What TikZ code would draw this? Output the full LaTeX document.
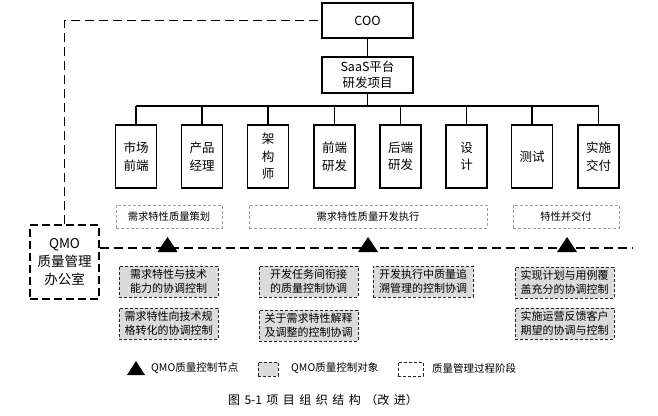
\documentclass[tikz,border=0pt]{standalone}
\usepackage{fontspec}
\setmainfont{Noto Sans CJK SC}
\newcommand\capgap{\hspace{4.5pt}}
\begin{document}
\begin{tikzpicture}[x=1pt,y=-1pt,
  solid box/.style={draw,line width=1.1pt,align=center,inner sep=0pt},
  topbox/.style={solid box,minimum width=91pt,font=\fontsize{12.5}{16}\selectfont},
  rolebox/.style={solid box,minimum width=41pt,minimum height=63pt,font=\fontsize{12.5}{17.5}\selectfont},
  phasebox/.style={draw=gray!75,line width=0.6pt,dash pattern=on 3pt off 2pt,minimum height=23pt,inner sep=0pt,font=\fontsize{10.3}{12}\selectfont},
  gbox/.style={fill=gray!28,draw=gray!30!black,line width=0.7pt,dash pattern=on 3pt off 2pt,minimum width=99pt,minimum height=31pt,align=center,inner sep=0pt,font=\fontsize{11}{14}\selectfont},
  qmoline/.style={line width=1.4pt,dash pattern=on 9pt off 5pt},
  legtext/.style={anchor=west,inner sep=0pt,font=\fontsize{10.5}{12}\selectfont}]
\useasboundingbox (0,0) rectangle (658,415);

% top
\node[topbox,minimum height=35pt] (coo) at (367.5,20.5) {COO};
\node[topbox,minimum height=36pt] (saas) at (367.5,75) {SaaS平台\\研发项目};
\draw[line width=1.1pt] (coo.south) -- (saas.north);

% roles
\node[rolebox] (b1) at (136,156.5) {市场\\前端};
\node[rolebox] (b2) at (202,156.5) {产品\\经理};
\node[rolebox] (b3) at (268,156.5) {架\\构\\师};
\node[rolebox] (b4) at (334.5,156.5) {前端\\研发};
\node[rolebox] (b5) at (400.5,156.5) {后端\\研发};
\node[rolebox] (b6) at (466.5,156.5) {设\\计};
\node[rolebox] (b7) at (532,156.5) {测试};
\node[rolebox] (b8) at (598.5,156.5) {实施\\交付};

\coordinate (bus) at (367.5,106);
\draw[line width=1.1pt] (saas.south) -- (bus);
\draw[line width=1.1pt] (b1.north |- bus) -- (b8.north |- bus);
\foreach \b in {b1,b2,b3,b4,b5,b6,b7,b8}
  \draw[line width=1.1pt] (\b.north) -- (\b.north |- bus);

% phases
\node[phasebox,minimum width=106pt] (p1) at (169,216.5) {需求特性质量策划};
\node[phasebox,minimum width=238pt] (p2) at (368,216.5) {需求特性质量开发执行};
\node[phasebox,minimum width=106pt] (p3) at (566,216.5) {特性并交付};

% QMO
\node[draw,line width=1.4pt,dash pattern=on 8pt off 4pt,minimum width=69pt,minimum height=74pt,align=center,inner sep=0pt,font=\fontsize{13.5}{18}\selectfont] (qmo) at (64.5,262) {QMO\\质量管理\\办公室};
\draw[qmoline] (qmo.north) |- (coo.west);
\coordinate (lineend) at (633,248);
\draw[qmoline] (qmo.east |- lineend) -- (lineend);

% control nodes
\fill (167.5,237) -- ++(10,15) -- ++(-20,0) -- cycle;
\fill (368,237) -- ++(10,15) -- ++(-20,0) -- cycle;
\fill (567,237) -- ++(10,15) -- ++(-20,0) -- cycle;

% control objects
\node[gbox] (g1) at (168.5,281.5) {需求特性与技术\\能力的协调控制};
\node[gbox] (g2) at (168.5,323.5) {需求特性向技术规\\格转化的协调控制};
\node[gbox] (g3) at (308.5,281.5) {开发任务间衔接\\的质量控制协调};
\node[gbox] (g4) at (308.5,325.5) {关于需求特性解释\\及调整的控制协调};
\node[gbox,minimum width=100pt] (g5) at (423,281.5) {开发执行中质量追\\溯管理的控制协调};
\node[gbox] (g6) at (564.5,282.5) {实现计划与用例覆\\盖充分的协调控制};
\node[gbox] (g7) at (564.5,323.5) {实施运营反馈客户\\期望的协调与控制};

% legend
\fill (136,361) -- ++(9,14) -- ++(-18,0) -- cycle;
\node[legtext] (l1) at (151,368.5) {QMO质量控制节点};
\node[fill=gray!28,draw=gray!30!black,line width=0.6pt,dash pattern=on 3pt off 2pt,minimum width=20pt,minimum height=14pt,inner sep=0pt] (lg) at (268,369) {};
\node[legtext] (l2) at (291,368.5) {QMO质量控制对象};
\node[draw=gray!30!black,line width=0.6pt,dash pattern=on 3pt off 2pt,minimum width=25pt,minimum height=14pt,inner sep=0pt] (lw) at (410.5,369) {};
\node[legtext] (l3) at (432,368.5) {质量管理过程阶段};

% caption
\node[inner sep=0pt,font=\fontsize{12}{14}\selectfont] (cap) at (323,400) {图\capgap 5-1\capgap 项\capgap 目\capgap 组\capgap 织\capgap 结\capgap 构\capgap （改\capgap 进）};
\end{tikzpicture}
\end{document}
